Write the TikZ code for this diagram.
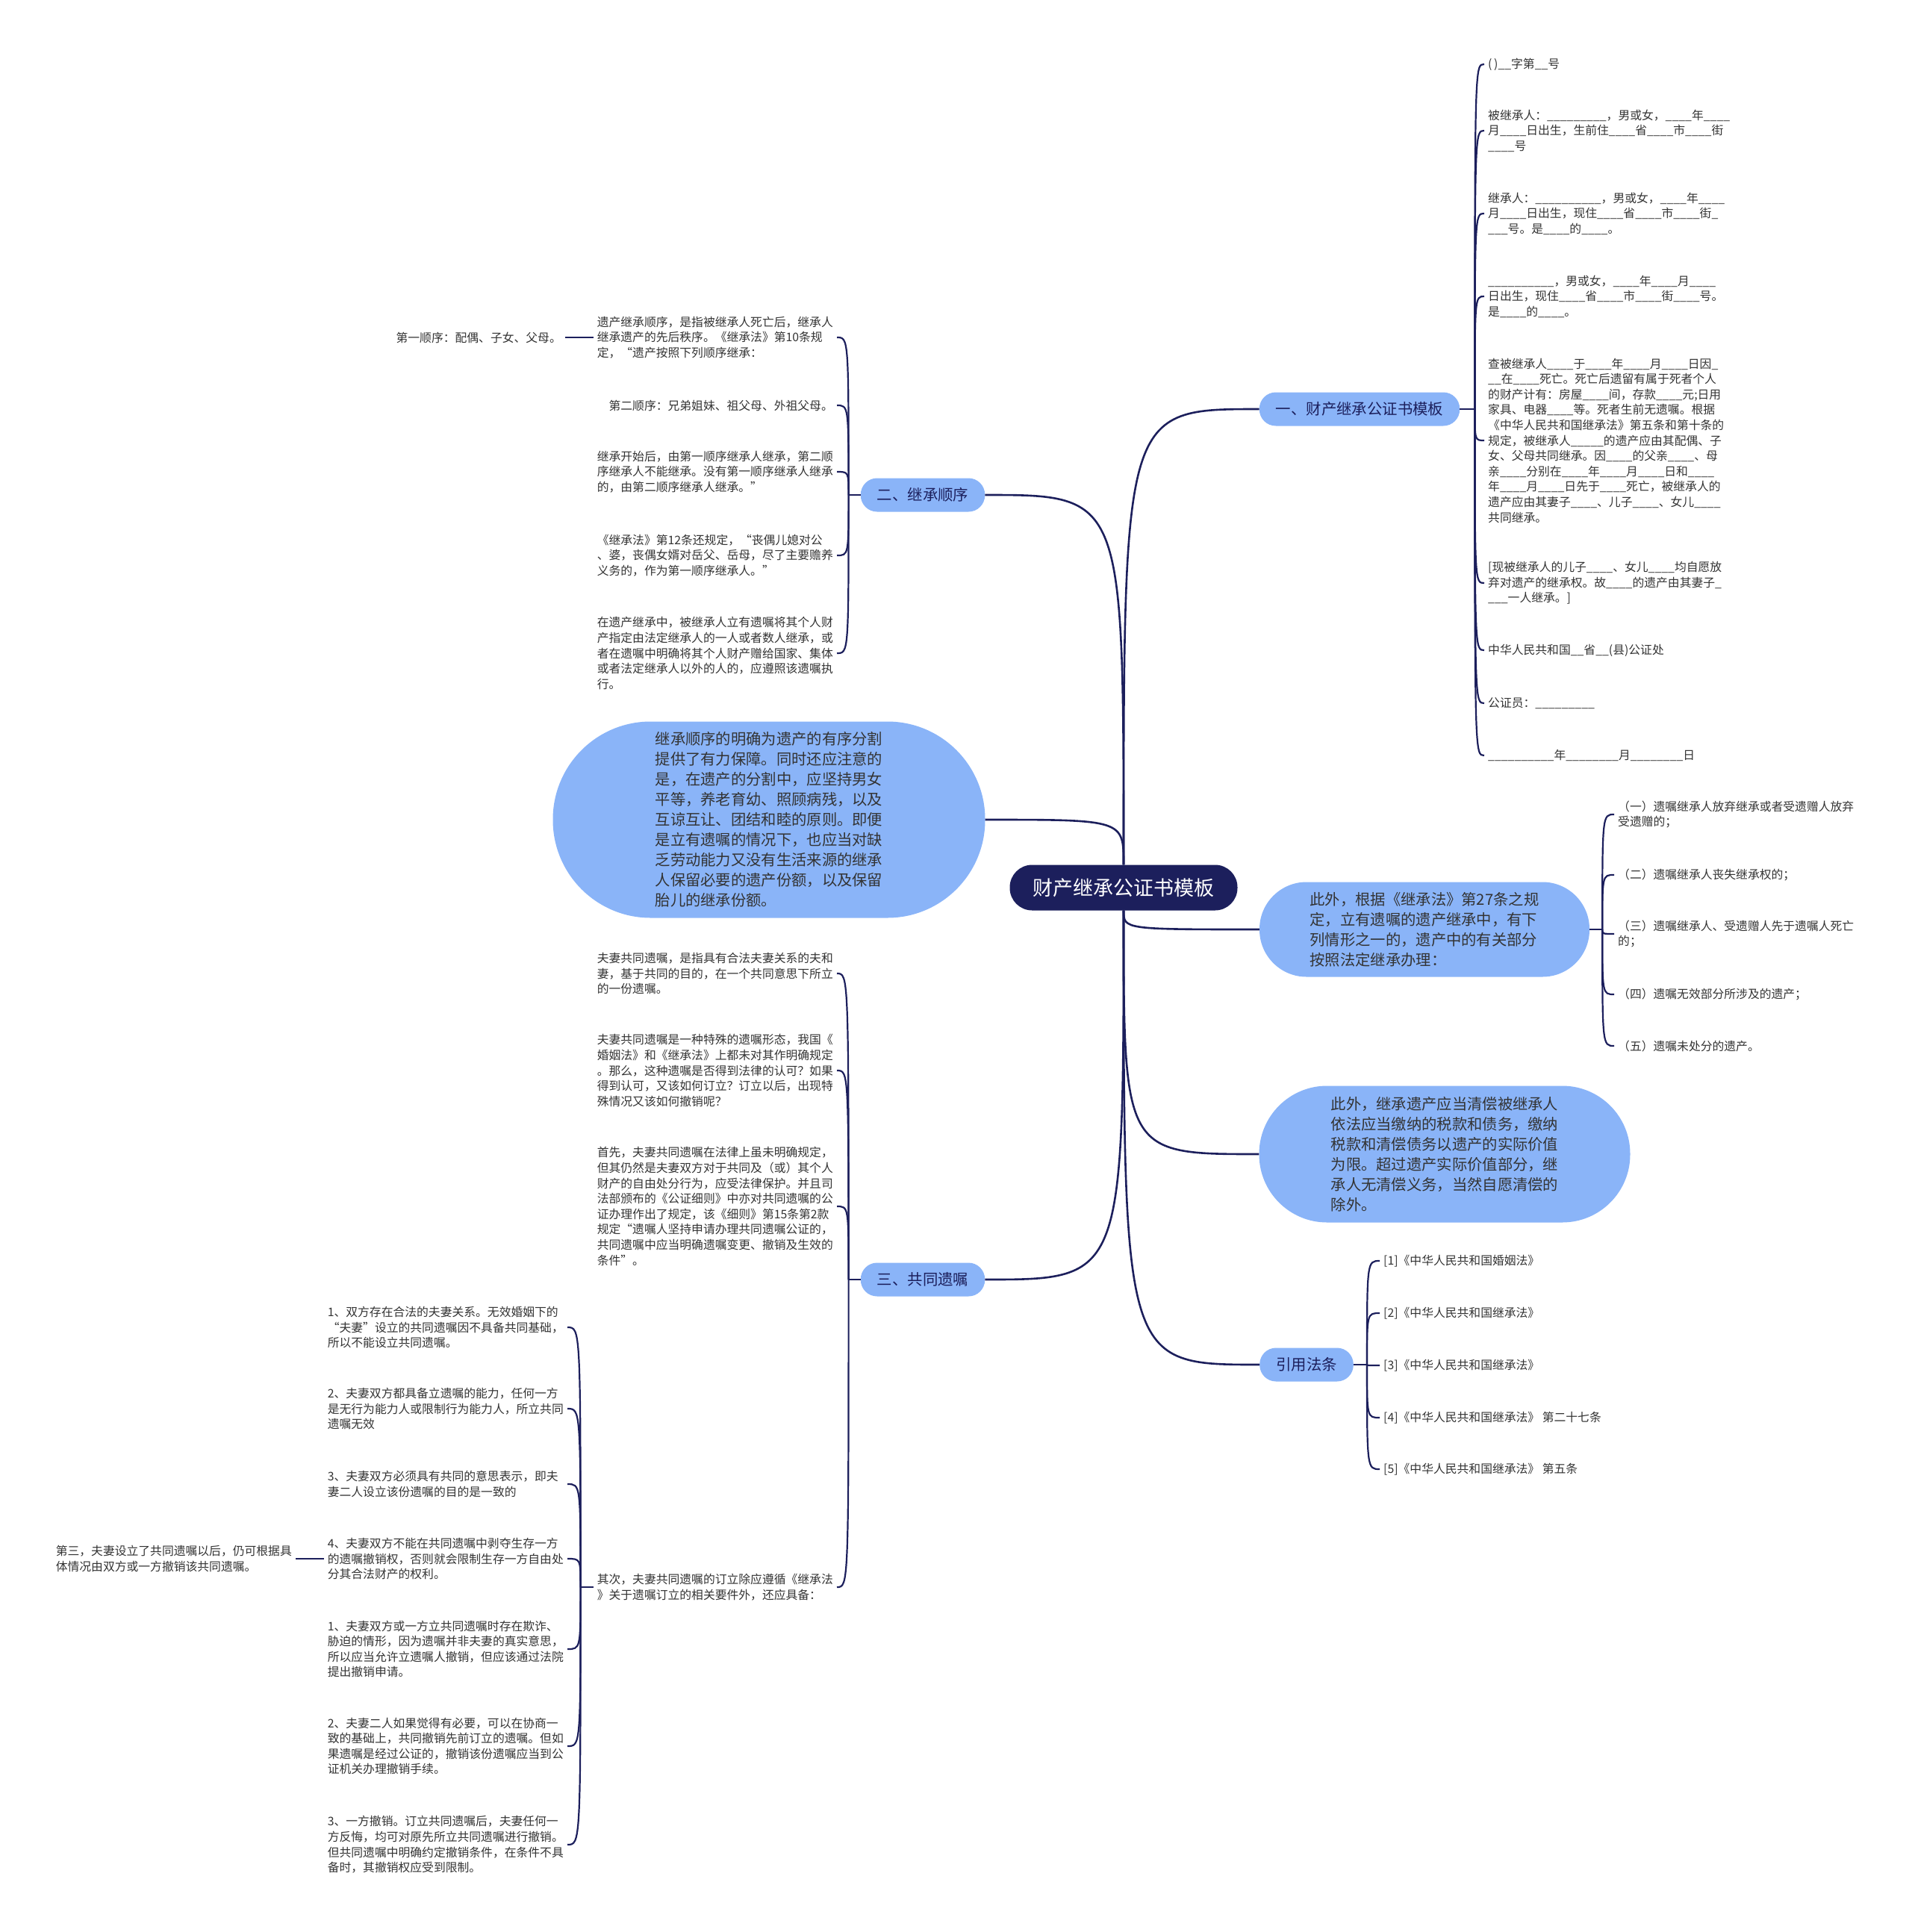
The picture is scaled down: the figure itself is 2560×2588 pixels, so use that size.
\documentclass[tikz,border=0pt]{standalone}
\usepackage{fontspec}
\setmainfont{Noto Sans CJK SC}
\usetikzlibrary{calc}

\definecolor{navy}{HTML}{1C1F5C}
\definecolor{bubble}{HTML}{8AB4F8}
\definecolor{ink}{HTML}{333333}
\newcommand{\blk}{\_\_\_\_}

\begin{document}
\begin{tikzpicture}[
    x=1pt, y=1pt,
    rootnode/.style={
        fill=navy,
        text=white,
        rounded corners=30pt,
        minimum width=305pt,
        minimum height=61pt,
        font=\fontsize{27}{32}\selectfont
    },
    topic/.style={
        fill=bubble,
        text=navy,
        rounded corners=22pt,
        minimum height=45pt,
        inner xsep=22pt,
        font=\fontsize{20.4}{26}\selectfont
    },
    note/.style={
        fill=bubble,
        text=ink,
        align=left,
        font=\fontsize{20.3}{27}\selectfont
    },
    leaf/.style={
        text=ink,
        align=left,
        inner xsep=5pt,
        inner ysep=2pt,
        font=\fontsize{15.8}{20.6}\selectfont
    },
    link/.style={draw=navy, line width=2.6pt},
    twig/.style={draw=navy, line width=2.2pt}
]
\useasboundingbox (0,0) rectangle (2560,-2588);

\node[rootnode] (root) at (1505,-1189) {财产继承公证书模板};

% first level
\node[topic] (formBranch) at (1821,-548) {一、财产继承公证书模板};
\node[topic] (orderBranch) at (1236,-663) {二、继承顺序};
\node[note, minimum width=579pt, minimum height=263pt, rounded corners=131pt] (orderNote) at (1030,-1098) {继承顺序的明确为遗产的有序分割\\提供了有力保障。同时还应注意的\\是，在遗产的分割中，应坚持男女\\平等，养老育幼、照顾病残，以及\\互谅互让、团结和睦的原则。即便\\是立有遗嘱的情况下，也应当对缺\\乏劳动能力又没有生活来源的继承\\人保留必要的遗产份额，以及保留\\胎儿的继承份额。};
\node[topic] (jointBranch) at (1236,-1714) {三、共同遗嘱};
\node[note, minimum width=442pt, minimum height=127pt, rounded corners=63pt] (exceptNote) at (1908,-1245) {此外，根据《继承法》第27条之规\\定，立有遗嘱的遗产继承中，有下\\列情形之一的，遗产中的有关部分\\按照法定继承办理：};
\node[note, minimum width=497pt, minimum height=183pt, rounded corners=91pt] (debtNote) at (1935,-1546) {此外，继承遗产应当清偿被继承人\\依法应当缴纳的税款和债务，缴纳\\税款和清偿债务以遗产的实际价值\\为限。超过遗产实际价值部分，继\\承人无清偿义务，当然自愿清偿的\\除外。};
\node[topic] (lawBranch) at (1750,-1828) {引用法条};

% notarial form
\node[leaf, anchor=west] (formNo) at (1988,-86) {(\,)\_\_字第\_\_号};
\node[leaf, anchor=west] (formDeceased) at (1988,-175) {被继承人：\blk\blk\_，男或女，\blk 年\blk\\月\blk 日出生，生前住\blk 省\blk 市\blk 街\\\blk 号};
\node[leaf, anchor=west] (formHeir) at (1988,-286) {继承人：\blk\blk\_\_，男或女，\blk 年\blk\\月\blk 日出生，现住\blk 省\blk 市\blk 街\_\\\_\_\_号。是\blk 的\blk 。};
\node[leaf, anchor=west] (formOther) at (1988,-397) {\blk\blk\_\_，男或女，\blk 年\blk 月\blk\\日出生，现住\blk 省\blk 市\blk 街\blk 号。\\是\blk 的\blk 。};
\node[leaf, anchor=west] (formFacts) at (1988,-590) {查被继承人\blk 于\blk 年\blk 月\blk 日因\_\\\_\_在\blk 死亡。死亡后遗留有属于死者个人\\的财产计有：房屋\blk 间，存款\blk 元;日用\\家具、电器\blk 等。死者生前无遗嘱。根据\\《中华人民共和国继承法》第五条和第十条的\\规定，被继承人\blk\_的遗产应由其配偶、子\\女、父母共同继承。因\blk 的父亲\blk 、母\\亲\blk 分别在\blk 年\blk 月\blk 日和\blk\\年\blk 月\blk 日先于\blk 死亡，被继承人的\\遗产应由其妻子\blk 、儿子\blk 、女儿\blk\\共同继承。};
\node[leaf, anchor=west] (formWaiver) at (1988,-781) {[现被继承人的儿子\blk 、女儿\blk 均自愿放\\弃对遗产的继承权。故\blk 的遗产由其妻子\_\\\_\_\_一人继承。]};
\node[leaf, anchor=west] (formOffice) at (1988,-871) {中华人民共和国\_\_省\_\_(县)公证处};
\node[leaf, anchor=west] (formNotary) at (1988,-942) {公证员：\blk\blk\_};
\node[leaf, anchor=west] (formDate) at (1988,-1012) {\blk\blk\_\_年\blk\blk 月\blk\blk 日};

% order of succession
\node[leaf, anchor=east] (orderDef) at (1121,-452) {遗产继承顺序，是指被继承人死亡后，继承人\\继承遗产的先后秩序。《继承法》第10条规\\定，“遗产按照下列顺序继承：};
\node[leaf, anchor=east] (orderSecond) at (1121,-543) {第二顺序：兄弟姐妹、祖父母、外祖父母。};
\node[leaf, anchor=east] (orderStart) at (1121,-632) {继承开始后，由第一顺序继承人继承，第二顺\\序继承人不能继承。没有第一顺序继承人继承\\的，由第二顺序继承人继承。”};
\node[leaf, anchor=east] (orderWidow) at (1121,-744) {《继承法》第12条还规定，“丧偶儿媳对公\\、婆，丧偶女婿对岳父、岳母，尽了主要赡养\\义务的，作为第一顺序继承人。”};
\node[leaf, anchor=east] (orderWill) at (1121,-875) {在遗产继承中，被继承人立有遗嘱将其个人财\\产指定由法定继承人的一人或者数人继承，或\\者在遗嘱中明确将其个人财产赠给国家、集体\\或者法定继承人以外的人的，应遵照该遗嘱执\\行。};
\node[leaf, anchor=east] (orderFirst) at (757,-452) {第一顺序：配偶、子女、父母。};

% joint will
\node[leaf, anchor=east] (jointDef) at (1121,-1304) {夫妻共同遗嘱，是指具有合法夫妻关系的夫和\\妻，基于共同的目的，在一个共同意思下所立\\的一份遗嘱。};
\node[leaf, anchor=east] (jointQuestion) at (1121,-1434) {夫妻共同遗嘱是一种特殊的遗嘱形态，我国《\\婚姻法》和《继承法》上都未对其作明确规定\\。那么，这种遗嘱是否得到法律的认可？如果\\得到认可，又该如何订立？订立以后，出现特\\殊情况又该如何撤销呢？};
\node[leaf, anchor=east] (jointFirst) at (1121,-1616) {首先，夫妻共同遗嘱在法律上虽未明确规定，\\但其仍然是夫妻双方对于共同及（或）其个人\\财产的自由处分行为，应受法律保护。并且司\\法部颁布的《公证细则》中亦对共同遗嘱的公\\证办理作出了规定，该《细则》第15条第2款\\规定“遗嘱人坚持申请办理共同遗嘱公证的，\\共同遗嘱中应当明确遗嘱变更、撤销及生效的\\条件”。};
\node[leaf, anchor=east] (jointSecond) at (1121,-2126) {其次，夫妻共同遗嘱的订立除应遵循《继承法\\》关于遗嘱订立的相关要件外，还应具备：};

\node[leaf, anchor=east] (condMarriage) at (760,-1778) {1、双方存在合法的夫妻关系。无效婚姻下的\\“夫妻”设立的共同遗嘱因不具备共同基础，\\所以不能设立共同遗嘱。};
\node[leaf, anchor=east] (condCapacity) at (760,-1887) {2、夫妻双方都具备立遗嘱的能力，任何一方\\是无行为能力人或限制行为能力人，所立共同\\遗嘱无效};
\node[leaf, anchor=east, text width=316pt] (condIntent) at (760,-1988) {3、夫妻双方必须具有共同的意思表示，即夫\\妻二人设立该份遗嘱的目的是一致的};
\node[leaf, anchor=east] (condRevokeRight) at (760,-2088) {4、夫妻双方不能在共同遗嘱中剥夺生存一方\\的遗嘱撤销权，否则就会限制生存一方自由处\\分其合法财产的权利。};
\node[leaf, anchor=east] (revokeFraud) at (760,-2209) {1、夫妻双方或一方立共同遗嘱时存在欺诈、\\胁迫的情形，因为遗嘱并非夫妻的真实意思，\\所以应当允许立遗嘱人撤销，但应该通过法院\\提出撤销申请。};
\node[leaf, anchor=east] (revokeBoth) at (760,-2339) {2、夫妻二人如果觉得有必要，可以在协商一\\致的基础上，共同撤销先前订立的遗嘱。但如\\果遗嘱是经过公证的，撤销该份遗嘱应当到公\\证机关办理撤销手续。};
\node[leaf, anchor=east] (revokeOne) at (760,-2471) {3、一方撤销。订立共同遗嘱后，夫妻任何一\\方反悔，均可对原先所立共同遗嘱进行撤销。\\但共同遗嘱中明确约定撤销条件，在条件不具\\备时，其撤销权应受到限制。};
\node[leaf, anchor=east] (jointThird) at (396,-2088) {第三，夫妻设立了共同遗嘱以后，仍可根据具\\体情况由双方或一方撤销该共同遗嘱。};

% exceptions
\node[leaf, anchor=west] (exceptOne) at (2162,-1091) {（一）遗嘱继承人放弃继承或者受遗赠人放弃\\受遗赠的；};
\node[leaf, anchor=west] (exceptTwo) at (2162,-1172) {（二）遗嘱继承人丧失继承权的；};
\node[leaf, anchor=west] (exceptThree) at (2162,-1251) {（三）遗嘱继承人、受遗赠人先于遗嘱人死亡\\的；};
\node[leaf, anchor=west] (exceptFour) at (2162,-1332) {（四）遗嘱无效部分所涉及的遗产；};
\node[leaf, anchor=west] (exceptFive) at (2162,-1401) {（五）遗嘱未处分的遗产。};

% cited laws
\node[leaf, anchor=west] (lawOne) at (1848,-1689) {[1]《中华人民共和国婚姻法》};
\node[leaf, anchor=west] (lawTwo) at (1848,-1759) {[2]《中华人民共和国继承法》};
\node[leaf, anchor=west] (lawThree) at (1848,-1829) {[3]《中华人民共和国继承法》};
\node[leaf, anchor=west] (lawFour) at (1848,-1899) {[4]《中华人民共和国继承法》 第二十七条};
\node[leaf, anchor=west] (lawFive) at (1848,-1968) {[5]《中华人民共和国继承法》 第五条};

% root to first level
\draw[link] (root.north) .. controls (root.north |- formBranch.west) .. (formBranch.west);
\draw[link] (root.north) .. controls (root.north |- orderBranch.east) .. (orderBranch.east);
\draw[link] (root.north) .. controls (root.north |- orderNote.east) .. (orderNote.east);
\draw[link] (root.south) .. controls (root.south |- jointBranch.east) .. (jointBranch.east);
\draw[link] (root.south) .. controls (root.south |- exceptNote.west) .. (exceptNote.west);
\draw[link] (root.south) .. controls (root.south |- debtNote.west) .. (debtNote.west);
\draw[link] (root.south) .. controls (root.south |- lawBranch.west) .. (lawBranch.west);

% brackets
\coordinate (jForm) at ($(formBranch.east)+(20,0)$);
\draw[twig] (formBranch.east) -- (jForm);
\draw[twig] (jForm) .. controls (jForm |- formNo.west) .. (formNo.west);
\draw[twig] (jForm) .. controls (jForm |- formDeceased.west) .. (formDeceased.west);
\draw[twig] (jForm) .. controls (jForm |- formHeir.west) .. (formHeir.west);
\draw[twig] (jForm) .. controls (jForm |- formOther.west) .. (formOther.west);
\draw[twig] (jForm) .. controls (jForm |- formFacts.west) .. (formFacts.west);
\draw[twig] (jForm) .. controls (jForm |- formWaiver.west) .. (formWaiver.west);
\draw[twig] (jForm) .. controls (jForm |- formOffice.west) .. (formOffice.west);
\draw[twig] (jForm) .. controls (jForm |- formNotary.west) .. (formNotary.west);
\draw[twig] (jForm) .. controls (jForm |- formDate.west) .. (formDate.west);

\coordinate (jOrder) at ($(orderBranch.west)+(-16,0)$);
\draw[twig] (orderBranch.west) -- (jOrder);
\draw[twig] (jOrder) .. controls (jOrder |- orderDef.east) .. (orderDef.east);
\draw[twig] (jOrder) .. controls (jOrder |- orderSecond.east) .. (orderSecond.east);
\draw[twig] (jOrder) .. controls (jOrder |- orderStart.east) .. (orderStart.east);
\draw[twig] (jOrder) .. controls (jOrder |- orderWidow.east) .. (orderWidow.east);
\draw[twig] (jOrder) .. controls (jOrder |- orderWill.east) .. (orderWill.east);
\draw[twig] (orderDef.west) -- (orderFirst.east);

\coordinate (jJoint) at ($(jointBranch.west)+(-16,0)$);
\draw[twig] (jointBranch.west) -- (jJoint);
\draw[twig] (jJoint) .. controls (jJoint |- jointDef.east) .. (jointDef.east);
\draw[twig] (jJoint) .. controls (jJoint |- jointQuestion.east) .. (jointQuestion.east);
\draw[twig] (jJoint) .. controls (jJoint |- jointFirst.east) .. (jointFirst.east);
\draw[twig] (jJoint) .. controls (jJoint |- jointSecond.east) .. (jointSecond.east);

\coordinate (jSecond) at ($(jointSecond.west)+(-17,0)$);
\draw[twig] (jointSecond.west) -- (jSecond);
\draw[twig] (jSecond) .. controls (jSecond |- condMarriage.east) .. (condMarriage.east);
\draw[twig] (jSecond) .. controls (jSecond |- condCapacity.east) .. (condCapacity.east);
\draw[twig] (jSecond) .. controls (jSecond |- condIntent.east) .. (condIntent.east);
\draw[twig] (jSecond) .. controls (jSecond |- condRevokeRight.east) .. (condRevokeRight.east);
\draw[twig] (jSecond) .. controls (jSecond |- revokeFraud.east) .. (revokeFraud.east);
\draw[twig] (jSecond) .. controls (jSecond |- revokeBoth.east) .. (revokeBoth.east);
\draw[twig] (jSecond) .. controls (jSecond |- revokeOne.east) .. (revokeOne.east);
\draw[twig] (condRevokeRight.west) -- (jointThird.east);

\coordinate (jExcept) at ($(exceptNote.east)+(17,0)$);
\draw[twig] (exceptNote.east) -- (jExcept);
\draw[twig] (jExcept) .. controls (jExcept |- exceptOne.west) .. (exceptOne.west);
\draw[twig] (jExcept) .. controls (jExcept |- exceptTwo.west) .. (exceptTwo.west);
\draw[twig] (jExcept) .. controls (jExcept |- exceptThree.west) .. (exceptThree.west);
\draw[twig] (jExcept) .. controls (jExcept |- exceptFour.west) .. (exceptFour.west);
\draw[twig] (jExcept) .. controls (jExcept |- exceptFive.west) .. (exceptFive.west);

\coordinate (jLaw) at ($(lawBranch.east)+(18,0)$);
\draw[twig] (lawBranch.east) -- (jLaw);
\draw[twig] (jLaw) .. controls (jLaw |- lawOne.west) .. (lawOne.west);
\draw[twig] (jLaw) .. controls (jLaw |- lawTwo.west) .. (lawTwo.west);
\draw[twig] (jLaw) .. controls (jLaw |- lawThree.west) .. (lawThree.west);
\draw[twig] (jLaw) .. controls (jLaw |- lawFour.west) .. (lawFour.west);
\draw[twig] (jLaw) .. controls (jLaw |- lawFive.west) .. (lawFive.west);

\end{tikzpicture}
\end{document}
